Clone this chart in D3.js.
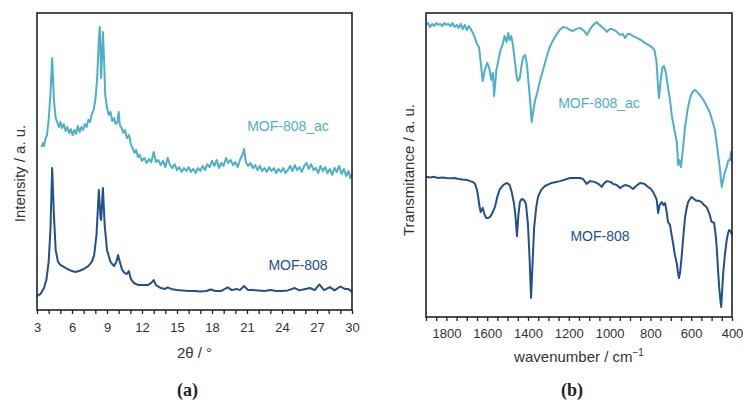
<!DOCTYPE html>
<html>
<head>
<meta charset="utf-8">
<script src="https://cdn.jsdelivr.net/npm/d3@7"></script>
<style>
  body { margin: 0; background: #fff; }
  svg { display: block; }
  text { font-family: Arial, "Liberation Sans", sans-serif; fill: #333; }
</style>
</head>
<body>
<script>
// ---- data ----
// (a) XRD, 2θ in degrees, intensity in arbitrary units (0..100 frame)
const xrdTheta808 = [3.0,3.3,3.6,3.8,4.0,4.15,4.3,4.45,4.6,4.8,5.0,5.3,5.6,6.0,6.3,6.6,7.0,7.4,7.7,7.9,8.1,8.3,8.45,8.5,8.65,8.8,9.0,9.3,9.6,9.8,9.95,10.1,10.3,10.5,10.7,10.87,11.05,11.3,11.7,12.1,12.5,12.8,13.0,13.2,13.6,14.0,14.2,14.5,15,15.5,16,16.5,17,17.5,17.9,18.3,18.8,19.35,19.7,20.1,20.4,20.75,21.1,21.5,22,22.5,23,23.5,24,24.5,25.1,25.5,26,26.4,26.8,27.2,27.6,28.1,28.5,29.0,29.4,29.7,30.0];
const xrdInt808 = [4.7,5.4,7.4,10.1,16.2,26.9,47.8,32.0,20.2,16.2,15.2,14.5,13.8,13.1,12.8,13.1,13.8,14.8,16.2,18.5,25.3,40.4,31.0,30.3,41.1,28.6,20.2,16.2,14.8,16.2,18.5,16.2,13.5,12.5,12.1,13.1,10.4,9.1,8.4,8.4,8.4,9.1,10.1,8.4,7.4,7.1,7.6,7.1,6.7,6.6,6.4,6.4,6.2,6.4,6.9,6.4,6.4,7.6,6.7,7.1,6.7,8.1,6.7,6.7,6.6,6.4,6.7,6.4,6.4,6.6,7.4,6.6,7.1,7.4,6.7,8.6,6.7,7.7,6.6,7.9,7.1,7.1,6.1];

const xrdThetaAc = [3.4,3.5,3.6,3.7,3.85,4.0,4.15,4.3,4.45,4.6,4.75,4.9,5.0,5.15,5.3,5.45,5.6,5.75,5.9,6.05,6.2,6.35,6.5,6.65,6.8,6.95,7.1,7.25,7.4,7.55,7.7,7.85,8.0,8.15,8.3,8.38,8.5,8.65,8.75,8.85,9.0,9.15,9.3,9.45,9.6,9.75,9.9,10.0,10.1,10.25,10.4,10.55,10.7,10.9,11.05,11.2,11.35,11.5,11.65,11.8,12.0,12.2,12.4,12.6,12.8,13.0,13.2,13.4,13.6,13.8,14.0,14.2,14.4,14.6,14.8,15.0,15.2,15.4,15.6,15.8,16.0,16.2,16.4,16.6,16.8,17.0,17.2,17.4,17.6,17.8,18.0,18.2,18.4,18.6,18.8,19.0,19.2,19.4,19.6,19.8,20.0,20.2,20.4,20.6,20.75,20.9,21.1,21.3,21.5,21.7,21.9,22.1,22.3,22.5,22.7,22.9,23.1,23.3,23.5,23.7,23.9,24.1,24.3,24.5,24.7,24.9,25.1,25.3,25.5,25.7,25.9,26.1,26.3,26.5,26.7,26.9,27.1,27.3,27.5,27.7,27.9,28.1,28.3,28.5,28.7,28.9,29.1,29.3,29.5,29.7,29.85,30.0];
const xrdIntAc = [54.9,56.2,55.2,57.2,58.9,64.0,72.4,84.8,70.7,64.6,63.0,61.6,63.3,61.3,62.6,60.3,61.6,59.6,60.9,58.9,60.6,59.3,62.0,59.9,61.6,60.6,62.6,61.6,64.0,63.3,66.0,67.3,70.7,77.4,90.9,95.3,78.1,93.6,84.2,72.4,68.0,65.7,66.7,63.6,64.6,62.6,63.3,66.7,62.3,61.3,59.6,60.6,57.9,58.9,55.6,54.5,52.9,53.9,51.5,52.2,50.2,51.2,49.5,50.8,49.8,53.2,49.8,50.5,48.8,50.2,48.1,51.2,48.8,47.8,49.1,47.1,48.1,46.5,47.8,46.8,48.1,46.5,47.5,46.1,47.8,46.8,48.5,47.1,49.1,48.1,50.2,48.5,50.5,47.8,49.5,48.5,51.2,49.5,50.5,48.8,49.8,48.1,50.5,52.2,54.2,49.8,48.5,49.5,47.8,48.8,47.1,48.5,46.8,47.8,46.5,48.1,46.8,47.8,46.1,47.5,46.5,47.8,46.1,47.1,48.5,46.8,48.8,47.1,48.1,46.5,48.5,49.5,47.5,49.1,47.1,47.8,46.1,48.5,46.8,48.1,46.1,47.5,45.5,47.8,46.5,48.5,45.8,47.5,45.1,46.8,44.4,45.8];

// (b) FTIR, wavenumber in cm-1, transmittance in arbitrary units (0..100 frame)
const irWaveAc = [1900,1890,1880,1870,1860,1850,1840,1830,1820,1810,1800,1790,1780,1770,1760,1750,1740,1730,1720,1710,1700,1690,1680,1670,1660,1650,1640,1632,1622,1612,1600,1590,1580,1572,1566,1555,1545,1535,1525,1515,1505,1497,1490,1482,1474,1465,1455,1449,1440,1432,1424,1414,1405,1395,1388,1382,1375,1365,1355,1340,1326,1310,1295,1284,1265,1245,1228,1210,1195,1180,1165,1145,1125,1111,1095,1080,1063,1050,1032,1020,1013,1000,988,970,949,935,924,912,900,885,866,846,826,810,792,780,770,763,758,750,742,733,724,714,704,694,682,670,664,657,650,640,630,618,606,594,582,570,557,540,522,508,493,484,475,468,460,455,450,443,435,426,418,410,405,400];
const irTransAc = [96.1,96.7,95.4,96.4,95.7,96.7,96.1,96.4,95.7,96.7,96.1,96.4,95.7,96.7,95.4,96.1,95.1,96.4,94.7,96.1,94.4,95.7,94.7,93.4,91.8,89.8,88.8,83.9,77.6,81.3,83.6,81.9,78.0,80.3,72.7,81.3,84.5,87.8,89.5,92.4,90.5,93.4,91.1,92.4,89.5,84.5,78.9,77.6,78.6,82.6,85.5,86.2,82.9,75.3,69.7,64.1,67.4,71.4,73.7,78.0,81.3,85.2,88.5,90.1,92.4,94.4,95.4,95.1,94.4,94.1,94.7,95.1,94.1,92.8,94.7,96.1,97.0,96.1,95.1,94.4,93.8,94.7,94.7,94.1,92.8,93.1,91.8,93.1,93.1,92.4,91.8,91.1,90.1,89.5,88.8,87.8,83.9,76.3,72.0,77.6,81.9,82.6,80.3,75.7,71.4,65.8,61.5,57.2,50.0,51.6,49.3,55.6,62.5,68.1,72.0,74.0,74.7,74.0,73.0,71.4,69.1,67.1,63.8,61.5,57.2,53.3,49.3,45.7,42.8,45.1,47.7,49.3,51.6,51.6,54.3,51.0];

const irWave808 = [1900,1880,1860,1840,1820,1800,1780,1760,1740,1720,1700,1684,1670,1660,1650,1645,1638,1632,1622,1614,1605,1595,1586,1575,1562,1552,1540,1522,1503,1490,1480,1469,1462,1454,1447,1440,1431,1420,1410,1400,1392,1385,1378,1370,1360,1351,1335,1317,1284,1243,1194,1145,1130,1113,1096,1072,1055,1039,1025,1014,995,983,965,949,935,924,905,885,870,851,830,812,797,787,775,769,762,755,744,736,728,720,714,704,696,689,680,671,665,660,654,647,638,630,622,615,606,598,586,574,562,549,537,525,512,500,488,480,475,469,463,457,453,448,443,435,426,419,414,407,400];
const irTrans808 = [46.1,45.9,46.1,45.7,45.9,45.7,45.6,45.7,45.4,45.2,45.1,44.7,44.4,43.8,41.8,39.8,36.5,34.5,35.9,33.9,32.6,32.6,32.9,34.2,36.2,39.1,41.8,43.4,44.1,43.4,41.1,37.5,33.6,26.6,33.6,37.8,38.8,38.5,37.2,30.3,18.8,6.3,17.1,29.3,35.9,39.5,41.8,43.1,44.1,44.7,45.7,45.7,45.4,43.8,44.7,44.4,43.8,42.8,44.1,44.7,44.4,43.8,43.4,42.4,43.1,43.4,43.1,42.1,43.1,44.1,43.8,42.8,42.1,41.1,39.5,38.5,34.2,36.8,37.8,36.8,37.5,34.5,31.3,30.3,27.0,24.3,20.4,17.8,14.8,12.8,14.8,19.7,27.0,32.9,35.9,37.8,38.8,39.5,38.8,38.2,38.2,37.8,36.8,36.2,34.2,31.3,31.0,27.0,23.0,16.1,9.9,5.6,3.3,8.9,14.5,20.4,25.3,27.6,28.6,28.3,27.0];

const labels = ['MOF-808_ac', 'MOF-808'];
const darkBlue = '#22508c';
const lightBlue = '#4cb0c8';

// ---- layout ----
const width = 743, height = 400;
const svg = d3.select('body').append('svg')
    .attr('width', width)
    .attr('height', height);

const A = {left: 37, right: 352, top: 13, bottom: 310};
const B = {left: 426, right: 732, top: 13, bottom: 317};

const xA = d3.scaleLinear().domain([3, 30]).range([A.left, A.right]);
const yA = d3.scaleLinear().domain([0, 100]).range([A.bottom, A.top]);
const xB = d3.scaleLinear().domain([1900, 400]).range([B.left, B.right]);
const yB = d3.scaleLinear().domain([0, 100]).range([B.bottom, B.top]);

function zip(xs, ys) {
    return xs.map((x, i) => [x, ys[i]]);
}

function drawPanel(P, x, y, tickVals, labelVals, tickPad, series, id) {
    const g = svg.append('g');

    g.append('clipPath').attr('id', id)
        .append('rect')
        .attr('x', P.left).attr('y', P.top - 2)
        .attr('width', P.right - P.left + 1)
        .attr('height', P.bottom - P.top + 2);

    const line = d3.line()
        .x(d => x(d[0]))
        .y(d => y(d[1]))
        .curve(d3.curveLinear);

    series.forEach(s => {
        g.append('path')
            .attr('clip-path', `url(#${id})`)
            .attr('d', line(s.data))
            .attr('fill', 'none')
            .attr('stroke', s.color)
            .attr('stroke-width', 2)
            .attr('stroke-linejoin', 'round');
    });

    // frame
    g.append('rect')
        .attr('x', P.left).attr('y', P.top)
        .attr('width', P.right - P.left)
        .attr('height', P.bottom - P.top)
        .attr('fill', 'none')
        .attr('stroke', '#222')
        .attr('stroke-width', 1.6);

    const axis = d3.axisBottom(x)
        .tickValues(tickVals)
        .tickSize(4)
        .tickPadding(tickPad)
        .tickFormat(d => labelVals.includes(d) ? d : '');

    const ax = g.append('g')
        .attr('transform', `translate(0,${P.bottom})`)
        .call(axis);
    ax.select('.domain').remove();
    ax.selectAll('.tick line').attr('stroke', '#222').attr('stroke-width', 1.3);
    ax.selectAll('.tick text')
        .attr('fill', '#333')
        .style('font-size', '13px')
        .style('font-family', 'Arial, "Liberation Sans", sans-serif');
    return g;
}

drawPanel(A, xA, yA, d3.range(3, 31, 1), d3.range(3, 31, 3), 9, [
    {data: zip(xrdThetaAc, xrdIntAc), color: lightBlue},
    {data: zip(xrdTheta808, xrdInt808), color: darkBlue}
], 'clipA');

drawPanel(B, xB, yB, d3.range(1900, 399, -50), d3.range(1800, 399, -200), 8, [
    {data: zip(irWaveAc, irTransAc), color: lightBlue},
    {data: zip(irWave808, irTrans808), color: darkBlue}
], 'clipB');

// series labels
svg.append('text').attr('x', 288).attr('y', 131).attr('text-anchor', 'middle')
    .style('font-size', '14px').style('fill', lightBlue).text(labels[0]);
svg.append('text').attr('x', 298).attr('y', 270).attr('text-anchor', 'middle')
    .style('font-size', '14px').style('fill', darkBlue).text(labels[1]);
svg.append('text').attr('x', 599).attr('y', 108).attr('text-anchor', 'middle')
    .style('font-size', '14px').style('fill', lightBlue).text(labels[0]);
svg.append('text').attr('x', 600).attr('y', 241).attr('text-anchor', 'middle')
    .style('font-size', '14px').style('fill', darkBlue).text(labels[1]);

// axis titles
svg.append('text').attr('x', (A.left + A.right) / 2).attr('y', 358)
    .attr('text-anchor', 'middle').style('font-size', '15px').text('2θ / °');

const wt = svg.append('text').attr('x', (B.left + B.right) / 2).attr('y', 362)
    .attr('text-anchor', 'middle').style('font-size', '15px');
wt.append('tspan').text('wavenumber / cm');
wt.append('tspan').attr('dy', -6).style('font-size', '10px').text('−1');

svg.append('text')
    .attr('transform', `translate(25,${(A.top + A.bottom) / 2 + 12}) rotate(-90)`)
    .attr('text-anchor', 'middle').style('font-size', '15px')
    .text('Intensity / a. u.');

svg.append('text')
    .attr('transform', `translate(414,${(B.top + B.bottom) / 2 + 5}) rotate(-90)`)
    .attr('text-anchor', 'middle').style('font-size', '15px')
    .text('Transmitance / a. u.');

// panel letters
[['(a)', (A.left + A.right) / 2 - 7], ['(b)', (B.left + B.right) / 2 - 7]].forEach(([k, cx]) => {
    svg.append('text').attr('x', cx).attr('y', 396)
        .attr('text-anchor', 'middle')
        .style('font-family', '"Liberation Serif", "Times New Roman", serif')
        .style('font-size', '18px')
        .style('font-weight', 'bold')
        .style('fill', '#222')
        .text(k);
});
</script>
</body>
</html>
